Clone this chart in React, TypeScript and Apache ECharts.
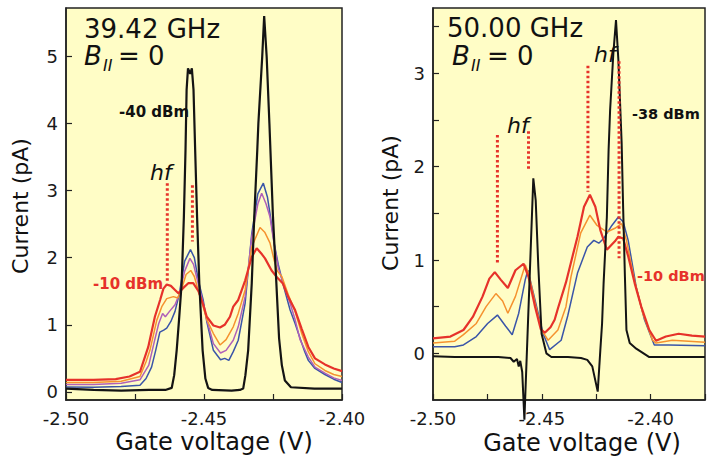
import React, { useEffect, useRef } from "react";
import * as echarts from "echarts";

// ---------- data (gate voltage V, current pA) ----------
const leftBlack: number[][] = [
  [-2.5, 0.05], [-2.49, 0.03], [-2.48, 0.02], [-2.47, 0.03], [-2.464, 0.03], [-2.4617, 0.06], [-2.4608, 0.25],
  [-2.4599, 0.62], [-2.459, 1.1], [-2.4581, 1.62], [-2.4573, 2.6], [-2.4567, 3.6], [-2.4563, 4.5], [-2.4558, 4.82],
  [-2.455, 4.74], [-2.4544, 4.82], [-2.4538, 4.5], [-2.4532, 3.6], [-2.4525, 2.6], [-2.4517, 1.62], [-2.4505, 0.62],
  [-2.4495, 0.2], [-2.4485, 0.06], [-2.447, 0.03], [-2.44, 0.02], [-2.437, 0.03], [-2.4358, 0.05], [-2.435, 0.25],
  [-2.434, 0.62], [-2.4327, 1.62], [-2.4318, 2.6], [-2.4307, 3.6], [-2.4303, 4.0], [-2.4289, 5.0], [-2.4282, 5.6],
  [-2.4273, 5.0], [-2.4263, 4.0], [-2.425, 2.6], [-2.424, 1.8], [-2.4228, 0.8], [-2.4218, 0.4], [-2.4207, 0.17],
  [-2.4185, 0.07], [-2.41, 0.05], [-2.4, 0.05],
];
const leftBlue: number[][] = [
  [-2.5, 0.075], [-2.49, 0.07], [-2.48, 0.08], [-2.4732, 0.1], [-2.471, 0.2], [-2.469, 0.37], [-2.4675, 0.62],
  [-2.466, 0.89], [-2.4646, 0.92], [-2.4635, 0.95], [-2.462, 1.05], [-2.4605, 1.2], [-2.459, 1.45], [-2.457, 1.95],
  [-2.4549, 2.12], [-2.4535, 2.0], [-2.452, 1.65], [-2.4503, 1.37], [-2.449, 1.05], [-2.4466, 0.62], [-2.444, 0.48],
  [-2.4425, 0.5], [-2.441, 0.47], [-2.4394, 0.6], [-2.4376, 0.77], [-2.4351, 1.32], [-2.4327, 2.36], [-2.4305, 2.95],
  [-2.4285, 3.11], [-2.427, 2.9], [-2.4261, 2.66], [-2.4245, 2.2], [-2.4231, 1.9], [-2.421, 1.55], [-2.4188, 1.22],
  [-2.417, 1.02], [-2.4152, 0.8], [-2.4135, 0.6], [-2.4122, 0.47], [-2.4098, 0.35], [-2.4062, 0.26], [-2.403, 0.19],
  [-2.4, 0.14],
];
const leftPurple: number[][] = [
  [-2.5, 0.11], [-2.49, 0.11], [-2.48, 0.13], [-2.4732, 0.18], [-2.47, 0.4], [-2.468, 0.75], [-2.4664, 1.02],
  [-2.465, 1.17], [-2.464, 1.12], [-2.4625, 1.2], [-2.4605, 1.3], [-2.459, 1.45], [-2.457, 1.8], [-2.4551, 1.99],
  [-2.4538, 1.9], [-2.452, 1.6], [-2.4503, 1.32], [-2.449, 1.08], [-2.4466, 0.72], [-2.444, 0.58], [-2.442, 0.62],
  [-2.4394, 0.77], [-2.4376, 0.97], [-2.4351, 1.42], [-2.4327, 2.31], [-2.4305, 2.8], [-2.4291, 2.96], [-2.4275, 2.8],
  [-2.4261, 2.61], [-2.4245, 2.18], [-2.4231, 1.85], [-2.421, 1.58], [-2.4188, 1.32], [-2.417, 1.08], [-2.4152, 0.78],
  [-2.4122, 0.52], [-2.4098, 0.37], [-2.4062, 0.28], [-2.403, 0.21], [-2.4, 0.17],
];
const leftOrange: number[][] = [
  [-2.5, 0.14], [-2.49, 0.14], [-2.48, 0.16], [-2.4732, 0.23], [-2.471, 0.45], [-2.4696, 0.62], [-2.4671, 1.07],
  [-2.4653, 1.27], [-2.4635, 1.39], [-2.4611, 1.42], [-2.4595, 1.4], [-2.458, 1.55], [-2.4565, 1.75], [-2.4548, 1.81],
  [-2.4535, 1.72], [-2.452, 1.5], [-2.4503, 1.27], [-2.449, 1.08], [-2.4466, 0.87], [-2.4442, 0.7], [-2.442, 0.78],
  [-2.4394, 0.97], [-2.4376, 1.17], [-2.4351, 1.52], [-2.4327, 2.16], [-2.4297, 2.45], [-2.428, 2.38], [-2.4261, 2.22],
  [-2.4245, 1.95], [-2.4234, 1.8], [-2.4218, 1.72], [-2.4195, 1.45], [-2.417, 1.2], [-2.4146, 0.87], [-2.4122, 0.6],
  [-2.4098, 0.42], [-2.4062, 0.32], [-2.403, 0.26], [-2.4, 0.23],
];
const leftRed: number[][] = [
  [-2.5, 0.18], [-2.49, 0.18], [-2.482, 0.19], [-2.477, 0.23], [-2.4732, 0.3], [-2.4702, 0.67], [-2.4678, 1.12],
  [-2.4659, 1.37], [-2.4647, 1.54], [-2.4635, 1.6], [-2.462, 1.58], [-2.4605, 1.52], [-2.4593, 1.47], [-2.4575, 1.55],
  [-2.4557, 1.62], [-2.4539, 1.62], [-2.452, 1.5], [-2.4503, 1.3], [-2.449, 1.12], [-2.4466, 0.99], [-2.4442, 0.96],
  [-2.4425, 1.0], [-2.4406, 1.12], [-2.4394, 1.27], [-2.4376, 1.37], [-2.4351, 1.66], [-2.4327, 2.01], [-2.4309, 2.14],
  [-2.429, 2.05], [-2.4279, 1.99], [-2.4255, 1.81], [-2.4234, 1.7], [-2.4215, 1.62], [-2.4195, 1.42], [-2.417, 1.22],
  [-2.4146, 0.94], [-2.4122, 0.67], [-2.4098, 0.5], [-2.4062, 0.41], [-2.403, 0.35], [-2.4, 0.31],
];

const rightBlack: number[][] = [
  [-2.5, -0.03], [-2.49, -0.04], [-2.48, -0.04], [-2.47, -0.04], [-2.4644, -0.05], [-2.4629, -0.09], [-2.4614, -0.06],
  [-2.4606, -0.14], [-2.4599, -0.08], [-2.459, -0.2], [-2.458, -0.71], [-2.4539, 1.875], [-2.4528, 1.64],
  [-2.4516, 0.93], [-2.4501, 0.21], [-2.4479, 0.0], [-2.4456, -0.04], [-2.438, -0.04], [-2.432, -0.05],
  [-2.4291, -0.07], [-2.4268, -0.14], [-2.4243, -0.41], [-2.4231, 0.035], [-2.4223, 0.32], [-2.4216, 0.75],
  [-2.4201, 1.46], [-2.4193, 2.18], [-2.4186, 2.61], [-2.4171, 3.22], [-2.4159, 3.57], [-2.4148, 3.14],
  [-2.4133, 2.25], [-2.4126, 1.54], [-2.4118, 0.82], [-2.4111, 0.25], [-2.4096, 0.11], [-2.4066, 0.05],
  [-2.4006, -0.04], [-2.39, -0.04], [-2.375, -0.04],
];
const rightBlue: number[][] = [
  [-2.5, 0.07], [-2.49, 0.07], [-2.486, 0.09], [-2.4801, 0.18], [-2.4749, 0.32], [-2.4704, 0.41], [-2.4666, 0.29],
  [-2.4636, 0.2], [-2.4606, 0.43], [-2.4576, 0.79], [-2.4564, 0.89], [-2.4531, 0.57], [-2.4494, 0.21], [-2.4464, 0.04],
  [-2.4411, 0.14], [-2.4381, 0.4], [-2.4336, 0.86], [-2.4291, 1.14], [-2.4261, 1.21], [-2.4238, 1.18], [-2.4216, 1.23],
  [-2.4178, 1.37], [-2.4148, 1.46], [-2.4126, 1.41], [-2.4103, 1.21], [-2.4066, 0.71], [-2.4028, 0.36], [-2.3983, 0.09],
  [-2.3916, 0.09], [-2.375, 0.08],
];
const rightOrange: number[][] = [
  [-2.5, 0.11], [-2.49, 0.13], [-2.486, 0.2], [-2.4801, 0.32], [-2.4756, 0.5], [-2.4711, 0.64], [-2.468, 0.56],
  [-2.4656, 0.43], [-2.4621, 0.61], [-2.4576, 0.95], [-2.456, 0.85], [-2.4531, 0.54], [-2.4501, 0.25], [-2.4471, 0.14],
  [-2.4426, 0.25], [-2.4389, 0.5], [-2.4366, 0.82], [-2.4321, 1.29], [-2.4279, 1.48], [-2.4246, 1.37], [-2.4201, 1.3],
  [-2.4164, 1.34], [-2.4133, 1.39], [-2.4111, 1.21], [-2.4073, 0.77], [-2.4036, 0.43], [-2.3991, 0.14], [-2.3975, 0.11],
  [-2.39, 0.14], [-2.375, 0.12],
];
const rightRed: number[][] = [
  [-2.5, 0.16], [-2.492, 0.18], [-2.486, 0.25], [-2.4817, 0.39], [-2.4772, 0.61], [-2.4741, 0.8], [-2.4716, 0.87],
  [-2.4689, 0.79], [-2.4656, 0.7], [-2.4621, 0.89], [-2.4584, 0.96], [-2.4561, 0.82], [-2.4531, 0.5], [-2.4505, 0.26],
  [-2.4486, 0.22], [-2.446, 0.28], [-2.4441, 0.36], [-2.4426, 0.48], [-2.4389, 0.76], [-2.4336, 1.25], [-2.4306, 1.57],
  [-2.4279, 1.7], [-2.4254, 1.57], [-2.4231, 1.32], [-2.4201, 1.11], [-2.4164, 1.2], [-2.4148, 1.25], [-2.4126, 1.23],
  [-2.4103, 1.04], [-2.4073, 0.75], [-2.4043, 0.5], [-2.4006, 0.25], [-2.3975, 0.135], [-2.393, 0.18], [-2.3871, 0.21],
  [-2.381, 0.19], [-2.375, 0.18],
];

// hf markers: [voltage, top current, bottom current]
const hfLeft: number[][] = [
  [-2.4633, 3.11, 1.64],
  [-2.4542, 3.08, 2.24],
];
const hfRight: number[][] = [
  [-2.4704, 2.34, 0.96],
  [-2.4561, 2.38, 1.95],
  [-2.4288, 3.08, 1.73],
  [-2.4145, 3.13, 1.02],
];

// tick labels
const xLabelValues = [-2.5, -2.45, -2.4];
const leftYLabels = [0, 1, 2, 3, 4, 5];
const rightYLabels = [0, 1, 2, 3];
const rightYTicks = [0, 0.5, 1, 1.5, 2, 2.5, 3, 3.5];

const FONT = '"DejaVu Sans", sans-serif';
const BG = "#FFFDC6";
const C_RED = "#E6322A";
const C_ORANGE = "#F5922F";
const C_PURPLE = "#B060B8";
const C_BLUE = "#3A55A8";
const C_BLACK = "#141414";

function line(data: number[][], color: string, width: number, idx: number, extra: any = {}) {
  return {
    type: "line",
    data,
    xAxisIndex: idx,
    yAxisIndex: idx,
    symbol: "none",
    showSymbol: false,
    silent: true,
    lineStyle: { color, width },
    itemStyle: { color },
    ...extra,
  };
}

function hfSeries(list: number[][], idx: number) {
  return list.map((m) =>
    line(
      [
        [m[0], m[1]],
        [m[0], m[2]],
      ],
      C_RED,
      3,
      idx,
      { lineStyle: { color: C_RED, width: 3, type: [2.5, 2.5], cap: "butt" }, z: 5 }
    )
  );
}

function xAxis(idx: number, max: number) {
  return {
    type: "value",
    gridIndex: idx,
    min: -2.5,
    max,
    interval: 0.025,
    axisLine: { show: true, onZero: false, lineStyle: { color: "#222", width: 1.5 } },
    axisTick: { show: true, inside: true, length: 6, lineStyle: { color: "#222", width: 1.2 } },
    splitLine: { show: false },
    axisLabel: {
      fontFamily: FONT,
      fontSize: 18,
      color: "#1a1a1a",
      margin: 9,
      showMaxLabel: true,
      showMinLabel: true,
      formatter: (v: number) => {
        const hit = xLabelValues.some((t) => Math.abs(t - v) < 1e-6);
        return hit ? v.toFixed(2) : "";
      },
    },
  };
}

function yAxis(idx: number, min: number, max: number, labels: number[], ticks: number[]) {
  return {
    type: "value",
    gridIndex: idx,
    min,
    max,
    axisLine: { show: true, onZero: false, lineStyle: { color: "#222", width: 1.5 } },
    axisTick: { show: true, inside: true, length: 6, customValues: ticks, lineStyle: { color: "#222", width: 1.2 } },
    splitLine: { show: false },
    axisLabel: { fontFamily: FONT, fontSize: 18, color: "#1a1a1a", margin: 8, customValues: labels },
  };
}

function txt(x: number, y: number, text: string, opts: any = {}) {
  const { rotation, ...style } = opts;
  return {
    type: "text",
    x,
    y,
    rotation: rotation || 0,
    z: 10,
    silent: true,
    style: {
      text,
      fontFamily: FONT,
      fontSize: 26,
      fill: "#111",
      align: "left",
      verticalAlign: "middle",
      ...style,
    },
  };
}

export default function App() {
  const ref = useRef<HTMLDivElement>(null);
  useEffect(() => {
    if (!ref.current) return;
    const chart = echarts.init(ref.current, undefined, { renderer: "svg" });
    const option: any = {
      animation: false,
      backgroundColor: "#ffffff",
      grid: [
        { left: 66, top: 8, width: 276, height: 392, show: true, backgroundColor: BG, borderColor: "#222", borderWidth: 1.5 },
        { left: 433, top: 8, width: 278, height: 392, show: true, backgroundColor: BG, borderColor: "#222", borderWidth: 1.5 },
      ],
      xAxis: [xAxis(0, -2.4), xAxis(1, -2.375)],
      yAxis: [
        yAxis(0, -0.12, 5.72, leftYLabels, leftYLabels),
        yAxis(1, -0.5, 3.7, rightYLabels, rightYTicks),
      ],
      series: [
        line(leftBlue, C_BLUE, 1.5, 0),
        line(leftPurple, C_PURPLE, 1.5, 0),
        line(leftOrange, C_ORANGE, 1.5, 0),
        line(leftRed, C_RED, 2.2, 0),
        line(leftBlack, C_BLACK, 2.2, 0),
        ...hfSeries(hfLeft, 0),
        line(rightBlue, C_BLUE, 1.5, 1),
        line(rightOrange, C_ORANGE, 1.5, 1),
        line(rightRed, C_RED, 2.2, 1),
        line(rightBlack, C_BLACK, 2, 1, { clip: false }),
        ...hfSeries(hfRight, 1),
      ],
      graphic: [
        txt(84, 28.5, "39.42 GHz"),
        txt(84, 56, "B", { fontStyle: "italic" }),
        txt(103, 65, "II", { fontStyle: "italic", fontSize: 16 }),
        txt(118, 56, "= 0"),
        txt(447, 27.5, "50.00 GHz"),
        txt(452, 56, "B", { fontStyle: "italic" }),
        txt(471, 65, "II", { fontStyle: "italic", fontSize: 16 }),
        txt(487, 56, "= 0"),
        txt(119, 111.5, "-40 dBm", { fontSize: 15, fontWeight: "bold" }),
        txt(93, 284, "-10 dBm", { fontSize: 15, fontWeight: "bold", fill: C_RED }),
        txt(632, 114, "-38 dBm", { fontSize: 14.5, fontWeight: "bold" }),
        txt(637, 276, "-10 dBm", { fontSize: 14.5, fontWeight: "bold", fill: C_RED }),
        txt(150, 172, "hf", { fontStyle: "italic", fontSize: 22 }),
        txt(507, 125.5, "hf", { fontStyle: "italic", fontSize: 22 }),
        txt(594, 54.5, "hf", { fontStyle: "italic", fontSize: 22 }),
        txt(214, 442, "Gate voltage (V)", { fontSize: 24, align: "center" }),
        txt(582, 443, "Gate voltage (V)", { fontSize: 24, align: "center" }),
        txt(20, 206, "Current (pA)", { fontSize: 22, align: "center", rotation: Math.PI / 2 }),
        txt(390, 203, "Current (pA)", { fontSize: 22, align: "center", rotation: Math.PI / 2 }),
      ],
    };
    chart.setOption(option);
    return () => chart.dispose();
  }, []);
  return (
    <div
      ref={ref}
      style={{ position: "fixed", left: 0, top: 0, width: 708, height: 462, background: "#fff" }}
    />
  );
}
